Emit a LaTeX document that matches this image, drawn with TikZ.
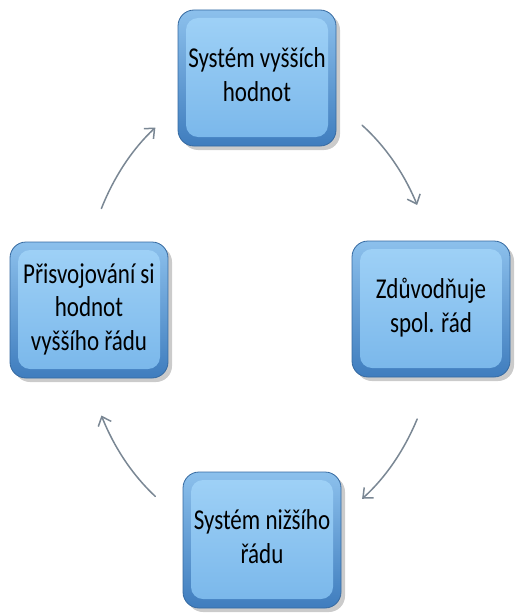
\documentclass[tikz,border=0pt]{standalone}
\usepackage{fontspec}
\setmainfont{Carlito}
\usepackage{graphicx}
\usetikzlibrary{calc,shadows,arrows.meta}
\definecolor{rimlight}{HTML}{8CC0EC}
\definecolor{rimdark}{HTML}{3F7DBE}
\definecolor{facetop}{HTML}{A0D2F7}
\definecolor{facebot}{HTML}{78B6EA}
\definecolor{arrowgray}{HTML}{7A8794}
\newcommand{\boxtext}[1]{\scalebox{1}[1.25]{\begin{tabular}{@{}c@{}}#1\end{tabular}}}
\tikzset{
  cyclebox/.style={rounded corners=16pt, minimum width=158pt, minimum height=136pt,
    draw=rimdark!85!black, line width=0.8pt, top color=rimlight, bottom color=rimdark,
    drop shadow={shadow xshift=4pt, shadow yshift=-4pt, fill=black!45, opacity=0.45},
    path picture={\shade[top color=facetop, bottom color=facebot, rounded corners=12pt]
      ($(path picture bounding box.north west)+(8pt,-8pt)$) rectangle
      ($(path picture bounding box.south east)+(-8pt,9pt)$);},
    font=\fontsize{23}{27}\selectfont, text=black, align=center, inner sep=0pt},
  cyclearrow/.style={draw=arrowgray, line width=1.5pt, line cap=round,
    -{Straight Barb[length=8pt,width=14pt]}}
}
\begin{document}
\begin{tikzpicture}[x=1pt, y=-1pt]
  \useasboundingbox (0,0) rectangle (516,615);
  \def\rx{178}
  \def\ry{228}
  \coordinate (O) at (260,312);
  % boxes
  \node[cyclebox] (vyssi) at (257,78) {\boxtext{Systém vyšších\\hodnot}};
  \node[cyclebox] (zduvodnuje) at (431,309) {\boxtext{Zdůvodňuje\\spol. řád}};
  \node[cyclebox] (nizsi) at (262,540) {\boxtext{Systém nižšího\\řádu}};
  \node[cyclebox] (prisvojovani) at (89,310) {\boxtext{Přisvojování si\\hodnot\\vyššího řádu}};
  % arcs of the cycle
  \foreach \i/\s in {1/-55, 2/28, 3/126, 4/207} {
    \coordinate (s\i) at ($(O)+({\rx*cos(\s)},{\ry*sin(\s)})$);
    \draw[cyclearrow] (s\i) arc[start angle=\s, end angle=\s+27, x radius=\rx, y radius=\ry];
  }
\end{tikzpicture}
\end{document}
